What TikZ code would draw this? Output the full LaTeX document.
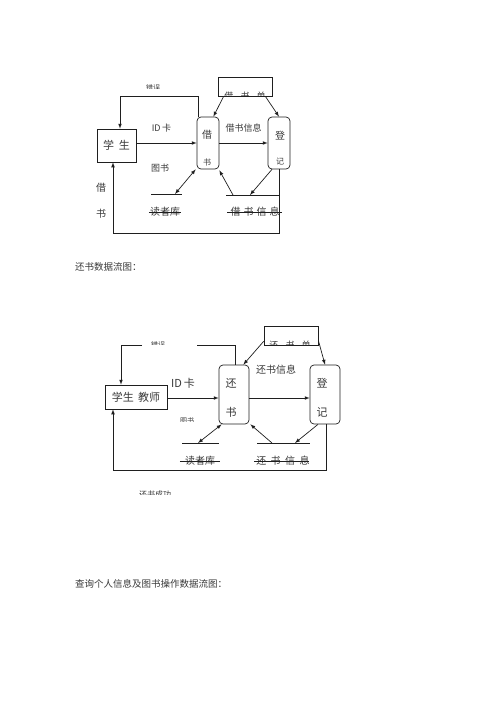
\documentclass[tikz,border=0pt]{standalone}
\usepackage{fontspec}
\setmainfont{Noto Sans CJK SC}
\usetikzlibrary{positioning}
\newcommand{\LINEPT}{0.7pt}
\newcommand{\FS}[1]{\fontsize{#1}{#1}\selectfont}
\definecolor{myline}{rgb}{0.12,0.12,0.12}
\definecolor{mytext}{rgb}{0.22,0.22,0.22}

\begin{document}
\begin{tikzpicture}[x=1pt,y=-1pt,>=latex,
	entity/.style={draw=myline,line width=\LINEPT,inner sep=0pt,text=mytext,font=\FS{11}},
	proc/.style={draw=myline,line width=\LINEPT,rounded corners=4pt,inner sep=0pt},
	txt/.style={inner sep=0pt,text=mytext,font=\FS{#1}},
	txt/.default=9,
	flow/.style={->,color=myline,line width=\LINEPT},
	store/.style={-,color=myline,line width=\LINEPT}]

	\useasboundingbox (0,0) rectangle (500,707);

		%% first diagram
		\node[entity,minimum width=39pt,minimum height=33pt] (stu1) at (116.5,145.5) {学\hspace{0.45em}生};
		\node[proc,minimum width=22pt,minimum height=52pt] (jie1) at (208,143) {};
		\node[proc,minimum width=22pt,minimum height=52pt] (dj1) at (279,143) {};
		\node[entity,minimum width=54pt,minimum height=19pt] (dan1) at (245,86.5) {};
		\node[txt=10] (jie1a) at (207,135) {借};
		\node[txt=8] (jie1b) at (207,162) {书};
		\node[txt=10] (dj1a) at (280,136) {登};
		\node[txt=8] (dj1b) at (280,161) {记};
		\begin{scope}
			\clip (215,80) rectangle (275,95.6);
			\node[txt=9] (dan1t) at (245,96) {借\hspace{0.8em}书\hspace{0.8em}单};
		\end{scope}
		\begin{scope}
			\clip (135,75) rectangle (175,88);
			\node[txt=7] (err1) at (153,88) {错误};
		\end{scope}

		\coordinate (rd1l) at (151,194);
		\coordinate (rd1r) at (182,194);
		\coordinate (rd1m) at (175,194);
		\coordinate (xs1l) at (226,195);
		\coordinate (xs1r) at (279,195);
		\coordinate (xs1a) at (233,195);
		\coordinate (xs1b) at (250,195);

		\draw[flow] (stu1.east |- jie1.west) -- (jie1.west) node [midway,above=10pt,xshift=-5pt,txt] (idk1) {ID\,卡};
		\node[txt] (ts1) at (160,168) {图书};
		\draw[flow] (jie1.east) -- (dj1.west) node [midway,above=10pt,txt] (xx1) {借书信息};
		\draw[flow] ([xshift=6pt]dan1.south west) -- ([xshift=-6pt]jie1.north east);
		\draw[flow] ([xshift=-7pt]dan1.south east) -- (dj1.north);
		\draw[flow] ([xshift=2pt]jie1.north west) -- ++(0,-20) -| ([xshift=3.5pt]stu1.north);
		\draw[flow] (dj1.south) -- ++(0,64) -| ([xshift=-3.5pt]stu1.south);
		\node[txt=10] (jie1l) at (101,188) {借};
		\node[txt=10] (shu1l) at (101,214) {书};

		\draw[store] (rd1l) -- (rd1r);
		\draw[flow,<->] ([xshift=-1pt]jie1.south west) -- (rd1m);
		\node[txt=10] (rdk1) at (165,212) {读者库};
		\draw[store] (rdk1.west) ++(-1,0.5) -- ++(32,0);

		\draw[store] (xs1l) -- (xs1r);
		\draw[flow] (xs1a) -- ([yshift=-1pt]jie1.south east);
		\draw[flow] ([xshift=-7pt]dj1.south) -- (xs1b);
		\node[txt=10] (xsk1) at (255,212) {借\hspace{0.3em}书\hspace{0.3em}信\hspace{0.3em}息};
		\draw[store] (xsk1.west) ++(-3,0.5) -- ++(55,0);

		%% heading
		\node[txt=9.5,anchor=west] (head2) at (75,267) {还书数据流图：};

		%% second diagram
		\node[entity,minimum width=62pt,minimum height=24pt] (stu2) at (136,397) {学生\hspace{0.4em}教师};
		\node[proc,minimum width=30pt,minimum height=59pt] (huan2) at (234,394.5) {};
		\node[proc,minimum width=30pt,minimum height=59pt] (dj2) at (325,394.5) {};
		\node[entity,minimum width=54pt,minimum height=19pt] (dan2) at (291,335.5) {};
		\node[txt=11] (huan2a) at (231,383) {还};
		\node[txt=11] (huan2b) at (231,412) {书};
		\node[txt=11] (dj2a) at (322,383) {登};
		\node[txt=11] (dj2b) at (322,412) {记};
		\begin{scope}
			\clip (262,330) rectangle (320,344.6);
			\node[txt=9] (dan2t) at (290,345) {还\hspace{0.8em}书\hspace{0.8em}单};
		\end{scope}
		\begin{scope}
			\clip (140,330) rectangle (180,344.5);
			\node[txt=7] (err2) at (158,345) {错误};
		\end{scope}
		\begin{scope}
			\clip (170,410) rectangle (205,421);
			\node[txt=7] (ts2) at (187,421) {图书};
		\end{scope}
		\begin{scope}
			\clip (125,485) rectangle (190,494);
			\node[txt=8] (cg2) at (155,494.5) {还书成功};
		\end{scope}

		\coordinate (e2a) at (197,345);
		\coordinate (e2b) at (142,345);
		\coordinate (rd2l) at (182,443);
		\coordinate (rd2r) at (219,443);
		\coordinate (rd2m) at (198,443);
		\coordinate (xs2l) at (257,443);
		\coordinate (xs2r) at (310,443);
		\coordinate (xs2a) at (272,443);
		\coordinate (xs2b) at (295,443);

		\draw[flow] (stu2.east |- 0,398) -- (huan2.west |- 0,398);
		\node[txt=11] (idk2) at (183,383) {ID\,卡};
		\draw[flow] (huan2.east |- 0,398) -- (dj2.west |- 0,398);
		\node[txt=10] (xx2) at (276,370) {还书信息};
		\draw[flow] ([yshift=4pt]dan2.south west) -- ([xshift=-6pt]huan2.north east);
		\draw[flow] ([yshift=5pt]dan2.south east) -- (dj2.north);
		\draw[store] ([xshift=1pt]huan2.north) |- (e2a);
		\draw[flow] (e2b) -| ([xshift=-15pt]stu2.north);
		\draw[flow] ([xshift=1pt]dj2.south) -- ++(0,46) -| ([xshift=-23pt]stu2.south);

		\draw[store] (rd2l) -- (rd2r);
		\draw[flow,<->] ([xshift=3pt]huan2.south west) -- (rd2m);
		\node[txt=10] (rdk2) at (200,461) {读者库};
		\draw[store] (rdk2.west) ++(-5,0.5) -- ++(40,0);

		\draw[store] (xs2l) -- (xs2r);
		\draw[flow] (xs2a) -- ([xshift=1pt]huan2.south east);
		\draw[flow] ([xshift=-7pt]dj2.south) -- (xs2b);
		\node[txt=10] (xsk2) at (283,461) {还\hspace{0.45em}书\hspace{0.45em}信\hspace{0.45em}息};
		\draw[store] (xsk2.west) ++(-2,0.5) -- ++(55,0);

		%% heading
		\node[txt=9.5,anchor=west] (head3) at (75,584) {查询个人信息及图书操作数据流图：};

	\end{tikzpicture}
\end{document}
